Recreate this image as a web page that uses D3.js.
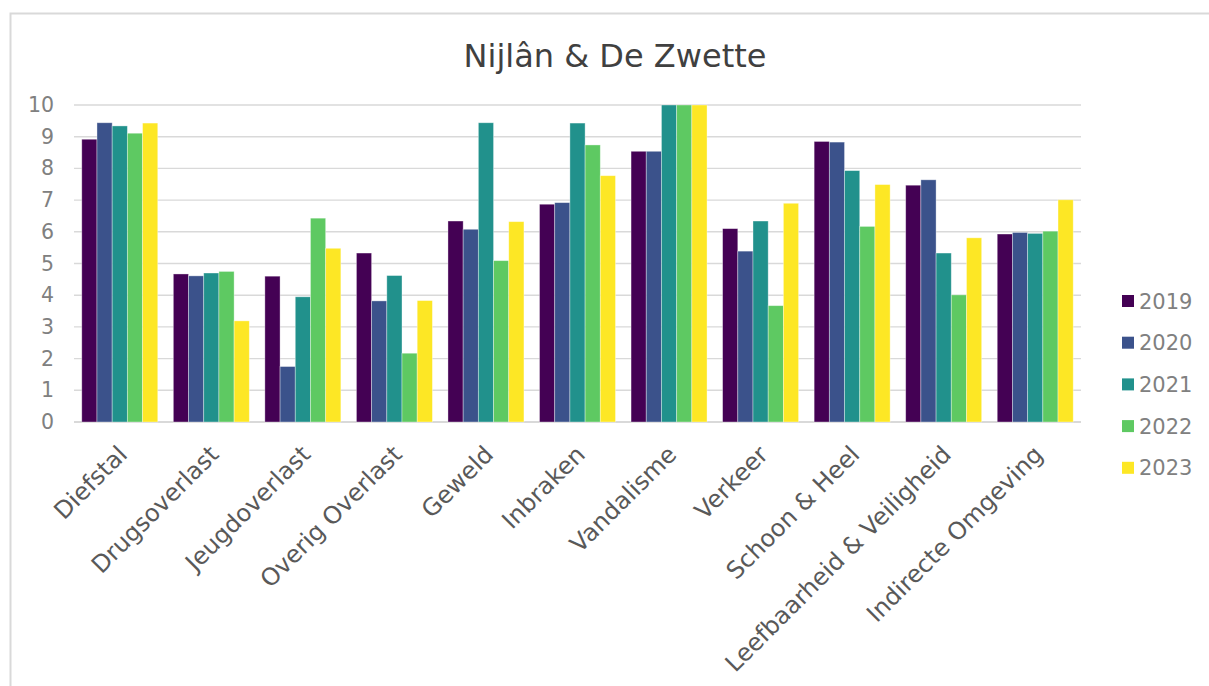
<!DOCTYPE html>
<html>
<head>
<meta charset="utf-8">
<script src="https://cdn.jsdelivr.net/npm/d3@7"></script>
<style>
  body { margin: 0; background: #fff; }
  text { font-family: "DejaVu Sans", Verdana, sans-serif; }
</style>
</head>
<body>
<div id="svgcontainer"></div>
<script>
const categories = ["Diefstal", "Drugsoverlast", "Jeugdoverlast", "Overig Overlast", "Geweld",
  "Inbraken", "Vandalisme", "Verkeer", "Schoon & Heel", "Leefbaarheid & Veiligheid", "Indirecte Omgeving"];
const years = ["2019", "2020", "2021", "2022", "2023"];
const v2019 = [8.92, 4.67, 4.60, 5.33, 6.34, 6.87, 8.54, 6.10, 8.85, 7.47, 5.93];
const v2020 = [9.44, 4.61, 1.75, 3.82, 6.08, 6.92, 8.54, 5.39, 8.83, 7.64, 5.98];
const v2021 = [9.34, 4.70, 3.95, 4.62, 9.44, 9.43, 10, 6.34, 7.93, 5.33, 5.95];
const v2022 = [9.11, 4.75, 6.43, 2.17, 5.09, 8.74, 10, 3.67, 6.17, 4.01, 6.02];
const v2023 = [9.43, 3.19, 5.48, 3.83, 6.32, 7.77, 10, 6.90, 7.49, 5.81, 7.01];
const yTicks = [0, 1, 2, 3, 4, 5, 6, 7, 8, 9, 10];
const colors = ["#440154", "#3b528b", "#21918c", "#5ec962", "#fde725"];

const series = [v2019, v2020, v2021, v2022, v2023];

var svg = d3.select("#svgcontainer")
    .append("svg")
    .attr("width", 1209)
    .attr("height", 686)

// chart border
svg.append('rect')
    .attr('x', 10.5).attr('y', 13.5)
    .attr('width', 1220).attr('height', 700)
    .attr('fill', '#fff').attr('stroke', '#d9d9d9').attr('stroke-width', 2)

svg.append('text')
    .attr('x', 615).attr('y', 67)
    .attr('text-anchor', 'middle')
    .attr('font-size', 32)
    .attr('fill', '#404040')
    .text("Nijlân & De Zwette")

let x0 = d3.scaleBand().domain(categories).range([74, 1081]).paddingInner(0.17).paddingOuter(0.085)
let x1 = d3.scaleBand().domain(years).range([0, x0.bandwidth()])
let y = d3.scaleLinear().domain([0, 10]).range([422, 105])

//gridlines
let grid = svg.append('g')
grid.selectAll('line').data(yTicks).join('line')
    .attr('x1', 74).attr('x2', 1081)
    .attr('y1', d => y(d)).attr('y2', d => y(d))
    .attr('stroke', '#d9d9d9')
    .attr('stroke-width', d => d == 0 ? 2 : 1.4)

//y axis labels
let yAxis = svg.append('g').attr('transform', 'translate(54, 0)')
    .call(d3.axisLeft(y).tickValues(yTicks).tickSize(0).tickPadding(0))
yAxis.select('.domain').remove()
yAxis.selectAll('text')
    .attr('font-size', 20.5)
    .attr('fill', '#808080')
    .attr('font-family', '"DejaVu Sans", Verdana, sans-serif')

//bars
let groups = svg.append('g').selectAll('g').data(categories).join('g')
    .attr('transform', d => 'translate(' + x0(d) + ',0)')
groups.selectAll('rect')
    .data((c, i) => years.map((yr, j) => ({ yr: yr, v: series[j][i], j: j })))
    .join('rect')
    .attr('x', d => x1(d.yr))
    .attr('width', x1.bandwidth())
    .attr('y', d => y(d.v))
    .attr('height', d => y(0) - y(d.v))
    .attr('fill', d => colors[d.j])
    .attr('stroke', '#fff').attr('stroke-opacity', 0.45).attr('stroke-width', 0.8)

//x labels, rotated
let xAxis = svg.append('g').attr('transform', 'translate(0, 450)')
    .call(d3.axisBottom(x0).tickSize(0).tickPadding(0))
xAxis.select('.domain').remove()
xAxis.selectAll('text')
    .attr('font-size', 24)
    .attr('fill', '#595959')
    .attr('font-family', '"DejaVu Sans", Verdana, sans-serif')
    .attr('text-anchor', 'end')
    .attr('dy', '0.35em')
    .attr('transform', 'translate(3, 0) rotate(-45)')

//legend
let legend = svg.append('g').selectAll('g').data(years).join('g')
    .attr('transform', (d, i) => 'translate(1122,' + (301 + i * 41.7) + ')')
legend.append('rect')
    .attr('x', 0).attr('y', -6).attr('width', 12).attr('height', 12)
    .attr('fill', (d, i) => colors[i])
legend.append('text')
    .attr('x', 17).attr('y', 0).attr('dy', '0.36em')
    .attr('font-size', 21)
    .attr('fill', '#808080')
    .text(d => d)
</script>
</body>
</html>
